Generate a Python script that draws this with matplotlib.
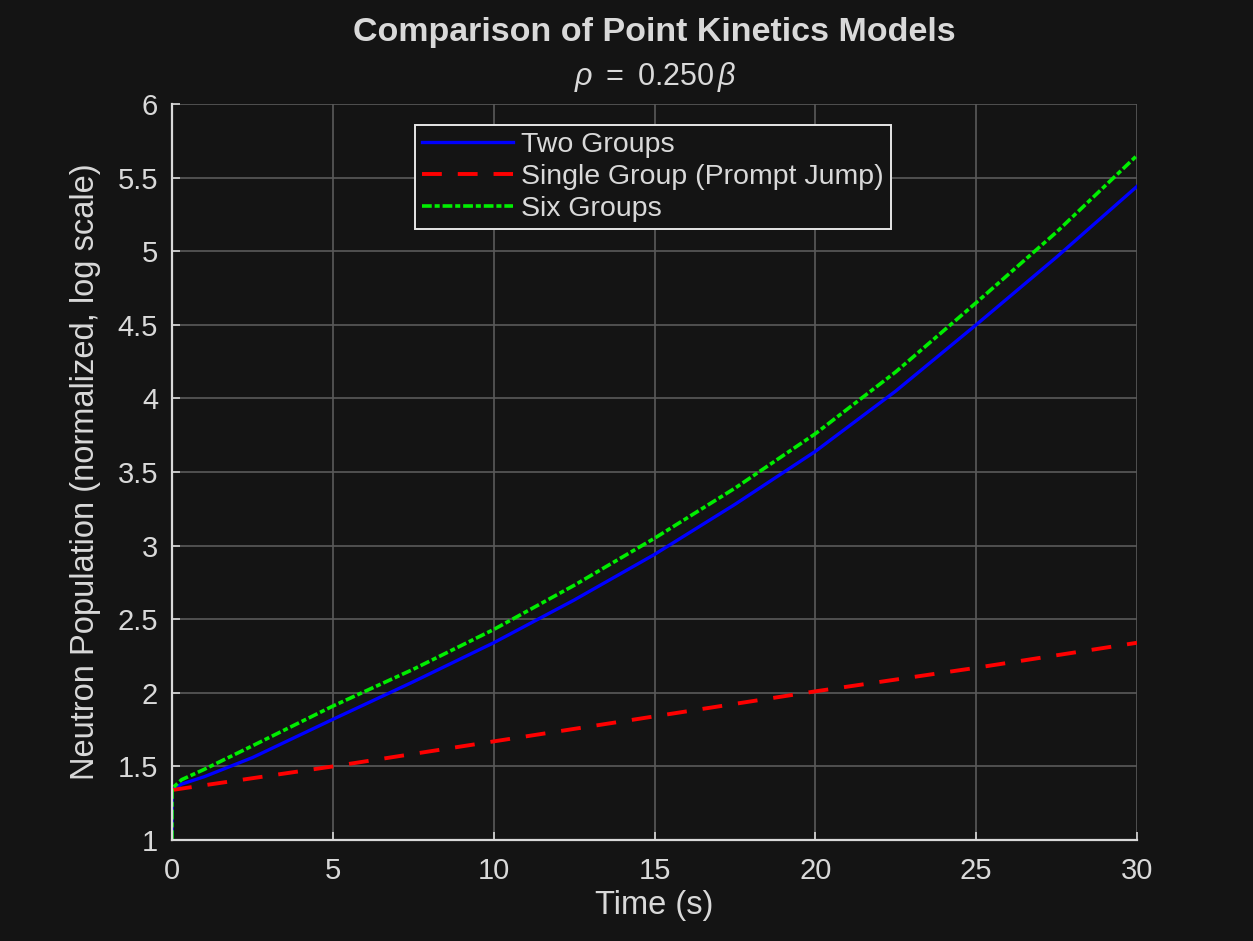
import matplotlib.pyplot as plt

plt.rcParams["font.family"] = ["Liberation Sans", "DejaVu Sans"]
plt.rcParams["mathtext.fontset"] = "custom"
plt.rcParams["mathtext.rm"] = "Liberation Sans"
plt.rcParams["mathtext.it"] = "Liberation Sans:italic"

# values
t = [0, 0, 0.3, 1, 2.5, 5, 7.5, 10, 12.5, 15, 17.5, 20, 22.5, 25, 27.5, 30]
two_groups = [1.0, 1.34, 1.38, 1.43, 1.56, 1.82, 2.075, 2.34, 2.63, 2.94, 3.28, 3.64, 4.05, 4.50, 4.96, 5.44]
six_groups = [1.0, 1.35, 1.41, 1.48, 1.64, 1.91, 2.16, 2.43, 2.73, 3.05, 3.39, 3.76, 4.18, 4.65, 5.13, 5.65]
single_t = [0, 5, 10, 15, 20, 25, 30]
single_group = [1.34, 1.50, 1.67, 1.84, 2.01, 2.17, 2.34]

ytick_vals = [1, 1.5, 2, 2.5, 3, 3.5, 4, 4.5, 5, 5.5, 6]
ytick_labels = ["1", "1.5", "2", "2.5", "3", "3.5", "4", "4.5", "5", "5.5", "6"]

bg = "#141414"
fg = "#d9d9d9"

fig = plt.figure(figsize=(12.53, 9.41), dpi=100, facecolor=bg)
ax = fig.add_axes([0.1373, 0.1073, 0.7701, 0.7822], facecolor=bg)

ax.plot(t, two_groups, color="#0000ff", lw=2.4, label="Two Groups")
ax.plot(single_t, single_group, color="#ff0000", lw=2.8, ls=(0, (5.1, 4.1)),
        label="Single Group (Prompt Jump)")
ax.plot(t, six_groups, color="#00ee00", lw=2.6, ls=(0, (2.7, 0.8, 1.4, 0.8)),
        label="Six Groups")

ax.set_xlim(0, 30)
ax.set_ylim(1, 6)
ax.set_xticks(range(0, 31, 5))
ax.set_yticks(ytick_vals)
ax.set_yticklabels(ytick_labels)
ax.tick_params(direction="in", colors=fg, labelsize=21, length=6, width=1.2)
ax.tick_params(axis="x", pad=12)
ax.tick_params(axis="y", pad=10)
ax.grid(True, color="#5a5a5a", lw=1.2)
ax.set_axisbelow(True)
for s in ["top", "right"]:
    ax.spines[s].set_visible(False)
for s in ["left", "bottom"]:
    ax.spines[s].set_color(fg)
    ax.spines[s].set_linewidth(1.6)

ax.set_xlabel("Time (s)", color=fg, fontsize=23.5, labelpad=4)
ax.set_ylabel("Neutron Population (normalized, log scale)", color=fg, fontsize=23.5, labelpad=12)

fig.text(0.5225, 0.965, "Comparison of Point Kinetics Models", color=fg,
         fontsize=24.5, fontweight="bold", ha="center", va="center")
fig.text(0.5225, 0.918, r"$\rho\ =\ 0.250\,\beta$", color=fg,
         fontsize=22, ha="center", va="center")

leg = ax.legend(loc="upper left", bbox_to_anchor=(0.252, 0.972), fontsize=20.5,
                frameon=True, facecolor=bg, edgecolor="#e6e6e6", labelcolor=fg,
                handlelength=3.2, handletextpad=0.28, borderpad=0.25,
                labelspacing=0.21, fancybox=False, borderaxespad=0, framealpha=1)
leg.get_frame().set_linewidth(1.4)

fig.savefig("out.png", dpi=100, facecolor=bg)
